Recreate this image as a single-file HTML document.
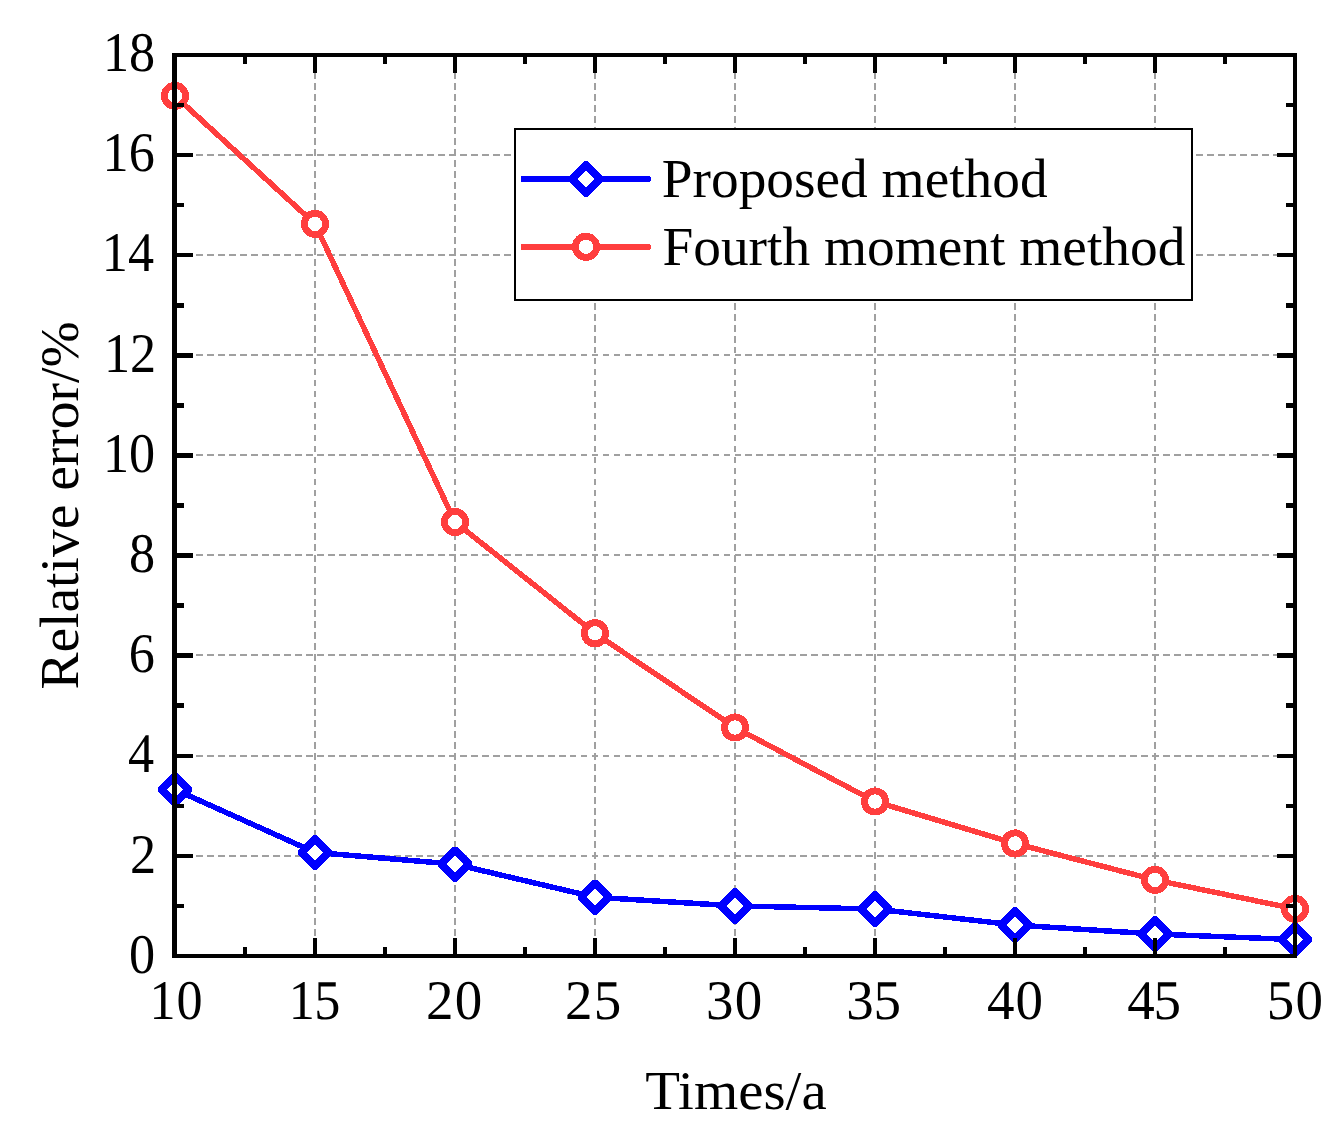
<!DOCTYPE html>
<html lang="en"><head><meta charset="utf-8"><title>Relative error vs Times</title>
<style>html,body{margin:0;padding:0;background:#fff}svg{display:block}text{font-family:"Liberation Serif","Times New Roman",serif;font-size:55px;fill:#000}text.tk{font-size:56px;text-rendering:geometricPrecision}</style></head><body>
<svg width="1337" height="1132" viewBox="0 0 1337 1132" shape-rendering="crispEdges">
<rect width="1337" height="1132" fill="#fff"/>
<g stroke="#A0A0A0" stroke-width="2" stroke-dasharray="6.8 4.188" fill="none">
<line x1="315" y1="61.01" x2="315" y2="955"/>
<line x1="455" y1="61.01" x2="455" y2="955"/>
<line x1="595" y1="61.01" x2="595" y2="955"/>
<line x1="735" y1="61.01" x2="735" y2="955"/>
<line x1="875" y1="61.01" x2="875" y2="955"/>
<line x1="1015" y1="61.01" x2="1015" y2="955"/>
<line x1="1155" y1="61.01" x2="1155" y2="955"/>
<line x1="174.12" y1="856" x2="1295" y2="856"/>
<line x1="174.12" y1="756" x2="1295" y2="756"/>
<line x1="174.12" y1="655" x2="1295" y2="655"/>
<line x1="174.12" y1="555" x2="1295" y2="555"/>
<line x1="174.12" y1="455" x2="1295" y2="455"/>
<line x1="174.12" y1="355" x2="1295" y2="355"/>
<line x1="174.12" y1="255" x2="1295" y2="255"/>
<line x1="174.12" y1="155" x2="1295" y2="155"/>
</g>
<polyline points="175,789.5 315,852.4 455,864.2 595,897.2 735,905.9 875,909 1015,925 1155,934 1295,939.6" fill="none" stroke="#0000FF" stroke-width="5.5" stroke-linejoin="round"/>
<g transform="translate(175,789.5)"><polygon points="-17,-2.2 -1.6,-17.6 1.6,-17.6 17,-2.2 17,2.2 1.6,17.6 -1.6,17.6 -17,2.2" fill="#0000FF"/><polygon points="-8.2,0 0,-8.2 8.2,0 0,8.2" fill="#fff"/></g>
<g transform="translate(315,852.4)"><polygon points="-17,-2.2 -1.6,-17.6 1.6,-17.6 17,-2.2 17,2.2 1.6,17.6 -1.6,17.6 -17,2.2" fill="#0000FF"/><polygon points="-8.2,0 0,-8.2 8.2,0 0,8.2" fill="#fff"/></g>
<g transform="translate(455,864.2)"><polygon points="-17,-2.2 -1.6,-17.6 1.6,-17.6 17,-2.2 17,2.2 1.6,17.6 -1.6,17.6 -17,2.2" fill="#0000FF"/><polygon points="-8.2,0 0,-8.2 8.2,0 0,8.2" fill="#fff"/></g>
<g transform="translate(595,897.2)"><polygon points="-17,-2.2 -1.6,-17.6 1.6,-17.6 17,-2.2 17,2.2 1.6,17.6 -1.6,17.6 -17,2.2" fill="#0000FF"/><polygon points="-8.2,0 0,-8.2 8.2,0 0,8.2" fill="#fff"/></g>
<g transform="translate(735,905.9)"><polygon points="-17,-2.2 -1.6,-17.6 1.6,-17.6 17,-2.2 17,2.2 1.6,17.6 -1.6,17.6 -17,2.2" fill="#0000FF"/><polygon points="-8.2,0 0,-8.2 8.2,0 0,8.2" fill="#fff"/></g>
<g transform="translate(875,909)"><polygon points="-17,-2.2 -1.6,-17.6 1.6,-17.6 17,-2.2 17,2.2 1.6,17.6 -1.6,17.6 -17,2.2" fill="#0000FF"/><polygon points="-8.2,0 0,-8.2 8.2,0 0,8.2" fill="#fff"/></g>
<g transform="translate(1015,925)"><polygon points="-17,-2.2 -1.6,-17.6 1.6,-17.6 17,-2.2 17,2.2 1.6,17.6 -1.6,17.6 -17,2.2" fill="#0000FF"/><polygon points="-8.2,0 0,-8.2 8.2,0 0,8.2" fill="#fff"/></g>
<g transform="translate(1155,934)"><polygon points="-17,-2.2 -1.6,-17.6 1.6,-17.6 17,-2.2 17,2.2 1.6,17.6 -1.6,17.6 -17,2.2" fill="#0000FF"/><polygon points="-8.2,0 0,-8.2 8.2,0 0,8.2" fill="#fff"/></g>
<g transform="translate(1295,939.6)"><polygon points="-17,-2.2 -1.6,-17.6 1.6,-17.6 17,-2.2 17,2.2 1.6,17.6 -1.6,17.6 -17,2.2" fill="#0000FF"/><polygon points="-8.2,0 0,-8.2 8.2,0 0,8.2" fill="#fff"/></g>
<polyline points="175,95.9 315,223.9 455,521.95 595,633.3 735,727.5 875,801.5 1015,843.5 1155,879.9 1295,908.9" fill="none" stroke="#FF3E3E" stroke-width="5.5" stroke-linejoin="round"/>
<circle cx="175" cy="95.9" r="10.6" fill="#fff" stroke="#FF3E3E" stroke-width="6.9"/>
<circle cx="315" cy="223.9" r="10.6" fill="#fff" stroke="#FF3E3E" stroke-width="6.9"/>
<circle cx="455" cy="521.95" r="10.6" fill="#fff" stroke="#FF3E3E" stroke-width="6.9"/>
<circle cx="595" cy="633.3" r="10.6" fill="#fff" stroke="#FF3E3E" stroke-width="6.9"/>
<circle cx="735" cy="727.5" r="10.6" fill="#fff" stroke="#FF3E3E" stroke-width="6.9"/>
<circle cx="875" cy="801.5" r="10.6" fill="#fff" stroke="#FF3E3E" stroke-width="6.9"/>
<circle cx="1015" cy="843.5" r="10.6" fill="#fff" stroke="#FF3E3E" stroke-width="6.9"/>
<circle cx="1155" cy="879.9" r="10.6" fill="#fff" stroke="#FF3E3E" stroke-width="6.9"/>
<circle cx="1295" cy="908.9" r="10.6" fill="#fff" stroke="#FF3E3E" stroke-width="6.9"/>
<rect x="515" y="129" width="677" height="171" fill="#fff" stroke="#000" stroke-width="2"/>
<rect x="520.8" y="176" width="129.8" height="6" rx="1.6" fill="#0000FF"/>
<g transform="translate(586,179)"><polygon points="-17,-2.2 -1.6,-17.6 1.6,-17.6 17,-2.2 17,2.2 1.6,17.6 -1.6,17.6 -17,2.2" fill="#0000FF"/><polygon points="-8.2,0 0,-8.2 8.2,0 0,8.2" fill="#fff"/></g>
<rect x="520.8" y="243.9" width="129.8" height="6" rx="1.6" fill="#FF3E3E"/>
<circle cx="586" cy="246.8" r="10.6" fill="#fff" stroke="#FF3E3E" stroke-width="6.9"/>
<text x="661.8" y="197" textLength="385.8" lengthAdjust="spacingAndGlyphs">Proposed method</text>
<text x="662.4" y="265.3" textLength="523" lengthAdjust="spacingAndGlyphs">Fourth moment method</text>
<g fill="#000">
<rect x="172" y="53" width="5" height="905"/>
<rect x="1293" y="53" width="4" height="905"/>
<rect x="172" y="53" width="1125" height="4"/>
<rect x="172" y="954" width="1125" height="4"/>
<rect x="243" y="57" width="4" height="7"/>
<rect x="243" y="947" width="4" height="7"/>
<rect x="313" y="57" width="4" height="16"/>
<rect x="313" y="938" width="4" height="16"/>
<rect x="383" y="57" width="4" height="7"/>
<rect x="383" y="947" width="4" height="7"/>
<rect x="453" y="57" width="4" height="16"/>
<rect x="453" y="938" width="4" height="16"/>
<rect x="523" y="57" width="4" height="7"/>
<rect x="523" y="947" width="4" height="7"/>
<rect x="593" y="57" width="4" height="16"/>
<rect x="593" y="938" width="4" height="16"/>
<rect x="663" y="57" width="4" height="7"/>
<rect x="663" y="947" width="4" height="7"/>
<rect x="733" y="57" width="4" height="16"/>
<rect x="733" y="938" width="4" height="16"/>
<rect x="803" y="57" width="4" height="7"/>
<rect x="803" y="947" width="4" height="7"/>
<rect x="873" y="57" width="4" height="16"/>
<rect x="873" y="938" width="4" height="16"/>
<rect x="943" y="57" width="4" height="7"/>
<rect x="943" y="947" width="4" height="7"/>
<rect x="1013" y="57" width="4" height="16"/>
<rect x="1013" y="938" width="4" height="16"/>
<rect x="1083" y="57" width="4" height="7"/>
<rect x="1083" y="947" width="4" height="7"/>
<rect x="1153" y="57" width="4" height="16"/>
<rect x="1153" y="938" width="4" height="16"/>
<rect x="1223" y="57" width="4" height="7"/>
<rect x="1223" y="947" width="4" height="7"/>
<rect x="177" y="904" width="7" height="4"/>
<rect x="1286" y="904" width="7" height="4"/>
<rect x="177" y="854" width="16" height="4"/>
<rect x="1277" y="854" width="16" height="4"/>
<rect x="177" y="804" width="7" height="4"/>
<rect x="1286" y="804" width="7" height="4"/>
<rect x="177" y="754" width="16" height="4"/>
<rect x="1277" y="754" width="16" height="4"/>
<rect x="177" y="703" width="7" height="5"/>
<rect x="1286" y="703" width="7" height="5"/>
<rect x="177" y="653" width="16" height="5"/>
<rect x="1277" y="653" width="16" height="5"/>
<rect x="177" y="603" width="7" height="5"/>
<rect x="1286" y="603" width="7" height="5"/>
<rect x="177" y="553" width="16" height="5"/>
<rect x="1277" y="553" width="16" height="5"/>
<rect x="177" y="503" width="7" height="5"/>
<rect x="1286" y="503" width="7" height="5"/>
<rect x="177" y="453" width="16" height="5"/>
<rect x="1277" y="453" width="16" height="5"/>
<rect x="177" y="403" width="7" height="5"/>
<rect x="1286" y="403" width="7" height="5"/>
<rect x="177" y="353" width="16" height="5"/>
<rect x="1277" y="353" width="16" height="5"/>
<rect x="177" y="303" width="7" height="5"/>
<rect x="1286" y="303" width="7" height="5"/>
<rect x="177" y="253" width="16" height="4"/>
<rect x="1277" y="253" width="16" height="4"/>
<rect x="177" y="203" width="7" height="4"/>
<rect x="1286" y="203" width="7" height="4"/>
<rect x="177" y="153" width="16" height="4"/>
<rect x="1277" y="153" width="16" height="4"/>
<rect x="177" y="103" width="7" height="4"/>
<rect x="1286" y="103" width="7" height="4"/>
</g>
<g text-anchor="end">
<text x="155.2" y="973.00" class="tk" textLength="26.10" lengthAdjust="spacingAndGlyphs">0</text>
<text x="156.1" y="873.00" class="tk" textLength="26.10" lengthAdjust="spacingAndGlyphs">2</text>
<text x="154" y="772.00" class="tk" textLength="26.10" lengthAdjust="spacingAndGlyphs">4</text>
<text x="154.8" y="672.00" class="tk" textLength="26.10" lengthAdjust="spacingAndGlyphs">6</text>
<text x="155.2" y="572.00" class="tk" textLength="26.10" lengthAdjust="spacingAndGlyphs">8</text>
<text x="155.2" y="472.00" class="tk" textLength="52.19" lengthAdjust="spacingAndGlyphs">10</text>
<text x="156.1" y="372.00" class="tk" textLength="52.19" lengthAdjust="spacingAndGlyphs">12</text>
<text x="154" y="271.00" class="tk" textLength="52.19" lengthAdjust="spacingAndGlyphs">14</text>
<text x="154.8" y="171.00" class="tk" textLength="52.19" lengthAdjust="spacingAndGlyphs">16</text>
<text x="155.2" y="71.00" class="tk" textLength="52.19" lengthAdjust="spacingAndGlyphs">18</text>
</g>
<g text-anchor="middle">
<text transform="translate(176.45,1019) scale(0.932,1)" class="tk" letter-spacing="0.88">10</text>
<text transform="translate(314.14,1019) scale(0.932,1)" class="tk" letter-spacing="-0.85">15</text>
<text transform="translate(454.68,1019) scale(0.982,1)" class="tk" letter-spacing="1.19">20</text>
<text transform="translate(593.63,1019) scale(0.982,1)" class="tk" letter-spacing="1.08">25</text>
<text transform="translate(734.72,1019) scale(0.982,1)" class="tk" letter-spacing="1.17">30</text>
<text transform="translate(873.41,1019) scale(0.982,1)" class="tk" letter-spacing="-0.42">35</text>
<text transform="translate(1015.58,1019) scale(0.982,1)" class="tk" letter-spacing="1.03">40</text>
<text transform="translate(1153.38,1019) scale(0.982,1)" class="tk" letter-spacing="-1.40">45</text>
<text transform="translate(1295.45,1019) scale(0.982,1)" class="tk" letter-spacing="1.25">50</text>
<text x="736" y="1109" textLength="181.3" lengthAdjust="spacingAndGlyphs">Times/a</text>
<text transform="translate(78.3,505.5) rotate(-90)" textLength="368.2" lengthAdjust="spacingAndGlyphs">Relative error/%</text>
</g>
</svg></body></html>
